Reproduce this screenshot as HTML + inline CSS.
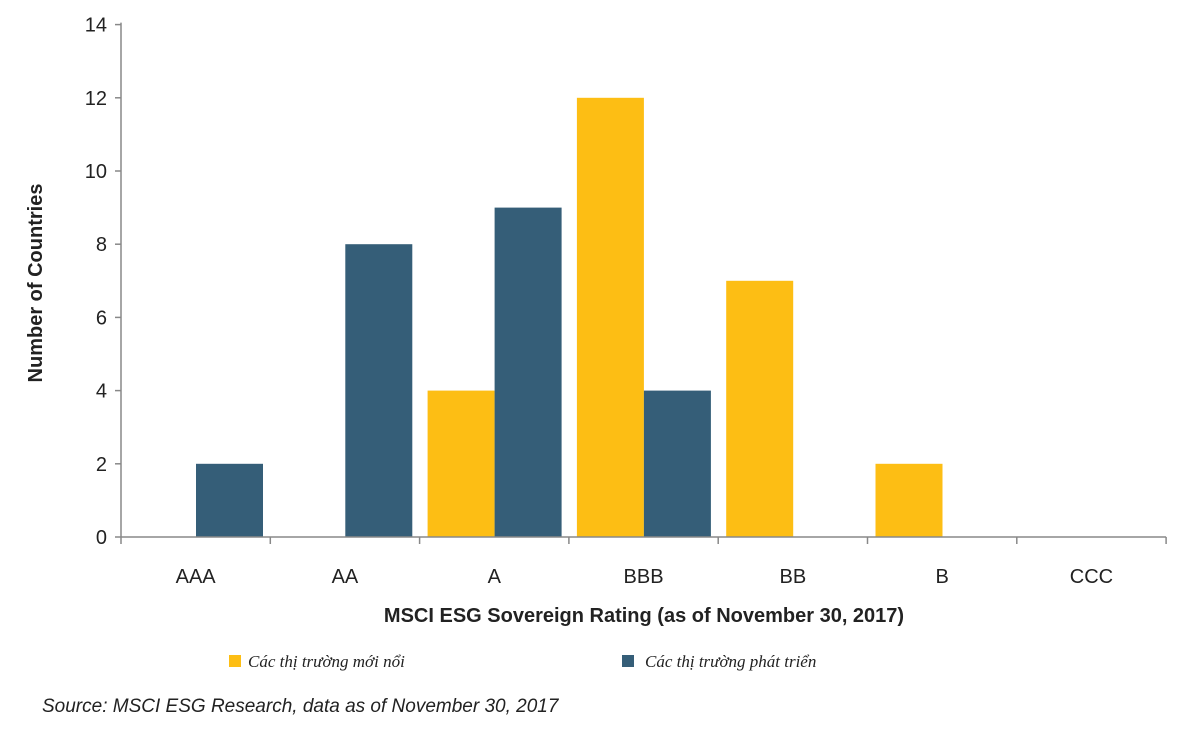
<!DOCTYPE html>
<html><head><meta charset="utf-8"><style>
body{margin:0;background:#fff;width:1181px;height:740px;overflow:hidden;font-family:"Liberation Sans",sans-serif}
</style></head><body>
<svg width="1181" height="740">
<g id="g"></g>
<text x="42" y="283" transform="rotate(-90 42 283)" text-anchor="middle" font-size="20" font-weight="bold" fill="#222">Number of Countries</text>
<text x="644" y="622" text-anchor="middle" font-size="20" font-weight="bold" fill="#222">MSCI ESG Sovereign Rating (as of November 30, 2017)</text>
<rect x="229" y="655" width="12" height="12" fill="#FDBE14"/>
<text x="248" y="667" font-size="17" font-style="italic" font-family="Liberation Serif,serif" fill="#222">Các thị trường mới nổi</text>
<rect x="622" y="655" width="12" height="12" fill="#355E78"/>
<text x="645" y="667" font-size="17" font-style="italic" font-family="Liberation Serif,serif" fill="#222">Các thị trường phát triển</text>
<text x="42" y="712" font-size="19" font-style="italic" fill="#222">Source: MSCI ESG Research, data as of November 30, 2017</text>
</svg>
<script>
const categories=["AAA","AA","A","BBB","BB","B","CCC"];
const emerging=[0,0,4,12,7,2,0];
const developed=[2,8,9,4,0,0,0];
const yTicks=[0,2,4,6,8,10,12,14];
const NS="http://www.w3.org/2000/svg";
const g=document.getElementById('g');
const x0=121,cw=149.3,y0=537,pu=36.6;
const yS=v=>y0-v*pu, xS=i=>x0+i*cw;
function mk(t,a){const e=document.createElementNS(NS,t);for(const k in a)e.setAttribute(k,a[k]);g.appendChild(e);return e;}
yTicks.forEach(v=>{
 const t=mk('line',{x1:x0-6,x2:x0,y1:yS(v),y2:yS(v),stroke:'#888','stroke-width':1.5});
 
 
 const l=mk('text',{x:x0-14,y:yS(v)+7,'text-anchor':'end','font-size':20,fill:'#222'});
 l.textContent=v;
 
 
});
categories.forEach((c,i)=>{
 const e=emerging[i],d=developed[i];
 if(e>0){const r=mk('rect',{x:xS(i)+8,y:yS(e),width:67,height:e*pu,fill:'#FDBE14'});
 
 }
 if(d>0){const r=mk('rect',{x:xS(i)+75,y:yS(d),width:67,height:d*pu,fill:'#355E78'});
 
 }
 const l=mk('text',{x:xS(i)+cw/2,y:583,'text-anchor':'middle','font-size':20,fill:'#222'});
 l.textContent=c;
 
 
});
for(let i=0;i<=categories.length;i++){
 const t=mk('line',{x1:xS(i),x2:xS(i),y1:y0,y2:y0+7,stroke:'#888','stroke-width':1.5});
 
 
}
const ya=mk('line',{x1:x0,x2:x0,y1:yS(14)-2,y2:y0,stroke:'#888','stroke-width':1.5});


const xa=mk('line',{x1:x0,x2:xS(categories.length),y1:y0,y2:y0,stroke:'#888','stroke-width':1.5});


</script>
</body></html>
